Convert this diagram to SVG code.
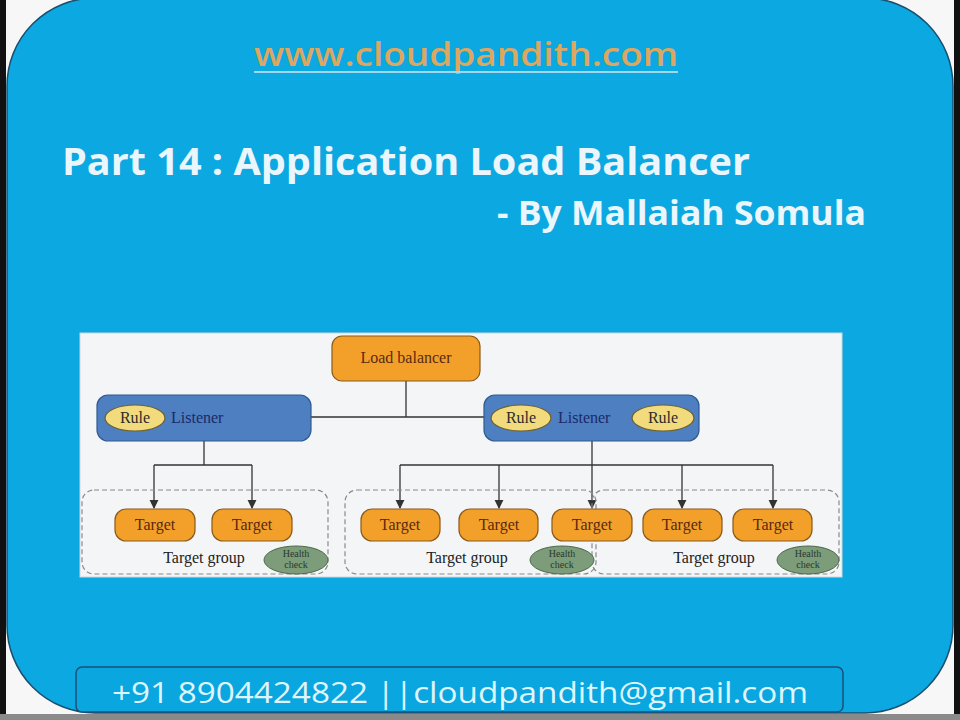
<svg xmlns="http://www.w3.org/2000/svg" width="960" height="720" viewBox="0 0 960 720">
<defs>
<style>
.sans{font-family:"Open Sans","Liberation Sans",sans-serif}
.serif{font-family:"Liberation Serif","DejaVu Serif",serif}
.lb{fill:#f2a02a;stroke:#8a5a1a;stroke-width:1.2}
.tg{fill:#f2a02a;stroke:#8a5a1a;stroke-width:1.2}
.lis{fill:#4e7fc0;stroke:#2f5a92;stroke-width:1.2}
.rule{fill:#f1db7c;stroke:#6f6030;stroke-width:1.2}
.hc{fill:#7d9c7a;stroke:#4d6a4a;stroke-width:1}
.grp{fill:none;stroke:#8a8a8a;stroke-width:1.2;stroke-dasharray:5 3}
.ln{fill:none;stroke:#333;stroke-width:1.3}
.t{font-size:16px;fill:#5a2a10;text-anchor:middle}
.tgrp{font-size:16px;fill:#222;text-anchor:middle}
.rt{font-size:16px;fill:#2a2a2a;text-anchor:middle}
.lt{font-size:16px;fill:#1a2a6a}
.hct{font-size:10px;fill:#2a3a2a;text-anchor:middle}
</style>
<marker id="arr" viewBox="0 0 10 10" refX="9" refY="5" markerWidth="7" markerHeight="7" orient="auto">
<path d="M0,0 L10,5 L0,10 z" fill="#333"/>
</marker>
</defs>
<rect x="0" y="0" width="960" height="720" fill="#f7f7f7"/>
<rect x="0" y="0" width="6" height="720" fill="#111"/>
<rect x="954" y="0" width="6" height="720" fill="#111"/>
<rect x="0" y="714" width="960" height="6" fill="#8a8a8a"/>
<rect x="7" y="-2" width="946" height="715" rx="88" ry="88" fill="#0ca8e1" stroke="#1b4f6e" stroke-width="1.5"/>

<g id="header">
<text x="466" y="66" class="sans" font-size="32" font-weight="600" fill="#dca760" text-anchor="middle" textLength="424" lengthAdjust="spacingAndGlyphs">www.cloudpandith.com</text>
<line x1="254" y1="72" x2="678" y2="72" stroke="#9fd8ea" stroke-width="2"/>
<text x="62" y="175" class="sans" font-size="37" font-weight="bold" fill="#eaf6fb" textLength="688" lengthAdjust="spacingAndGlyphs">Part 14 : Application Load Balancer</text>
<text x="497" y="225" class="sans" font-size="34" font-weight="bold" fill="#eaf6fb" textLength="369" lengthAdjust="spacingAndGlyphs">- By Mallaiah  Somula</text>
</g>

<rect x="80" y="333" width="762" height="244" fill="#f3f5f7" stroke="#cfd6dc" stroke-width="1"/>

<g id="connectors">
<path class="ln" d="M406,381 V417 M311,417 H484"/>
<path class="ln" d="M204,441 V465 M154,465 H252"/>
<path class="ln" d="M154,465 V508" marker-end="url(#arr)"/>
<path class="ln" d="M252,465 V508" marker-end="url(#arr)"/>
<path class="ln" d="M400,465 H773"/>
<path class="ln" d="M400,465 V508" marker-end="url(#arr)"/>
<path class="ln" d="M499,465 V508" marker-end="url(#arr)"/>
<path class="ln" d="M592,441 V508" marker-end="url(#arr)"/>
<path class="ln" d="M682,465 V508" marker-end="url(#arr)"/>
<path class="ln" d="M773,465 V508" marker-end="url(#arr)"/>
</g>

<g id="group-left">
<rect class="grp" x="82" y="490" width="246" height="84" rx="12"/>
<text class="serif tgrp" x="204" y="563">Target group</text>
</g>
<g id="group-middle">
<rect class="grp" x="345" y="490" width="251" height="84" rx="12"/>
<text class="serif tgrp" x="467" y="563">Target group</text>
</g>
<g id="group-right">
<rect class="grp" x="592" y="490" width="247" height="84" rx="12"/>
<text class="serif tgrp" x="714" y="563">Target group</text>
</g>

<g id="load-balancer">
<rect class="lb" x="332" y="336" width="148" height="45" rx="10"/>
<text class="serif t" x="406" y="363">Load balancer</text>
</g>

<g id="listener-left">
<rect class="lis" x="97" y="395" width="214" height="46" rx="11"/>
<ellipse class="rule" cx="135" cy="418" rx="30" ry="13"/>
<text class="serif rt" x="135" y="423">Rule</text>
<text class="serif lt" x="171" y="423">Listener</text>
</g>

<g id="listener-right">
<rect class="lis" x="484" y="395" width="215" height="46" rx="11"/>
<ellipse class="rule" cx="521" cy="418" rx="30" ry="13"/>
<text class="serif rt" x="521" y="423">Rule</text>
<text class="serif lt" x="558" y="423">Listener</text>
<ellipse class="rule" cx="663" cy="418" rx="31" ry="13"/>
<text class="serif rt" x="663" y="423">Rule</text>
</g>

<g id="target-1"><rect class="tg" x="115" y="509" width="80" height="32" rx="11"/><text class="serif t" x="155" y="530">Target</text></g>
<g id="target-2"><rect class="tg" x="212" y="509" width="80" height="32" rx="11"/><text class="serif t" x="252" y="530">Target</text></g>
<g id="target-3"><rect class="tg" x="361" y="509" width="79" height="32" rx="11"/><text class="serif t" x="400" y="530">Target</text></g>
<g id="target-4"><rect class="tg" x="459" y="509" width="79" height="32" rx="11"/><text class="serif t" x="499" y="530">Target</text></g>
<g id="target-5"><rect class="tg" x="552" y="509" width="80" height="32" rx="11"/><text class="serif t" x="592" y="530">Target</text></g>
<g id="target-6"><rect class="tg" x="643" y="509" width="79" height="32" rx="11"/><text class="serif t" x="682" y="530">Target</text></g>
<g id="target-7"><rect class="tg" x="733" y="509" width="79" height="32" rx="11"/><text class="serif t" x="773" y="530">Target</text></g>

<g id="health-1"><ellipse class="hc" cx="296" cy="560" rx="32" ry="14"/><text class="serif hct" x="296" y="557">Health</text><text class="serif hct" x="296" y="568">check</text></g>
<g id="health-2"><ellipse class="hc" cx="562" cy="560" rx="32" ry="14"/><text class="serif hct" x="562" y="557">Health</text><text class="serif hct" x="562" y="568">check</text></g>
<g id="health-3"><ellipse class="hc" cx="808" cy="560" rx="31" ry="14"/><text class="serif hct" x="808" y="557">Health</text><text class="serif hct" x="808" y="568">check</text></g>

<g id="footer">
<rect x="76" y="667" width="767" height="45" rx="6" fill="#0aa6df" stroke="#1a4f78" stroke-width="1.5"/>
<text x="112" y="703" class="sans" font-size="30" fill="#dff5fd" textLength="696" lengthAdjust="spacingAndGlyphs">+91 8904424822  ||cloudpandith@gmail.com</text>
</g>
</svg>
